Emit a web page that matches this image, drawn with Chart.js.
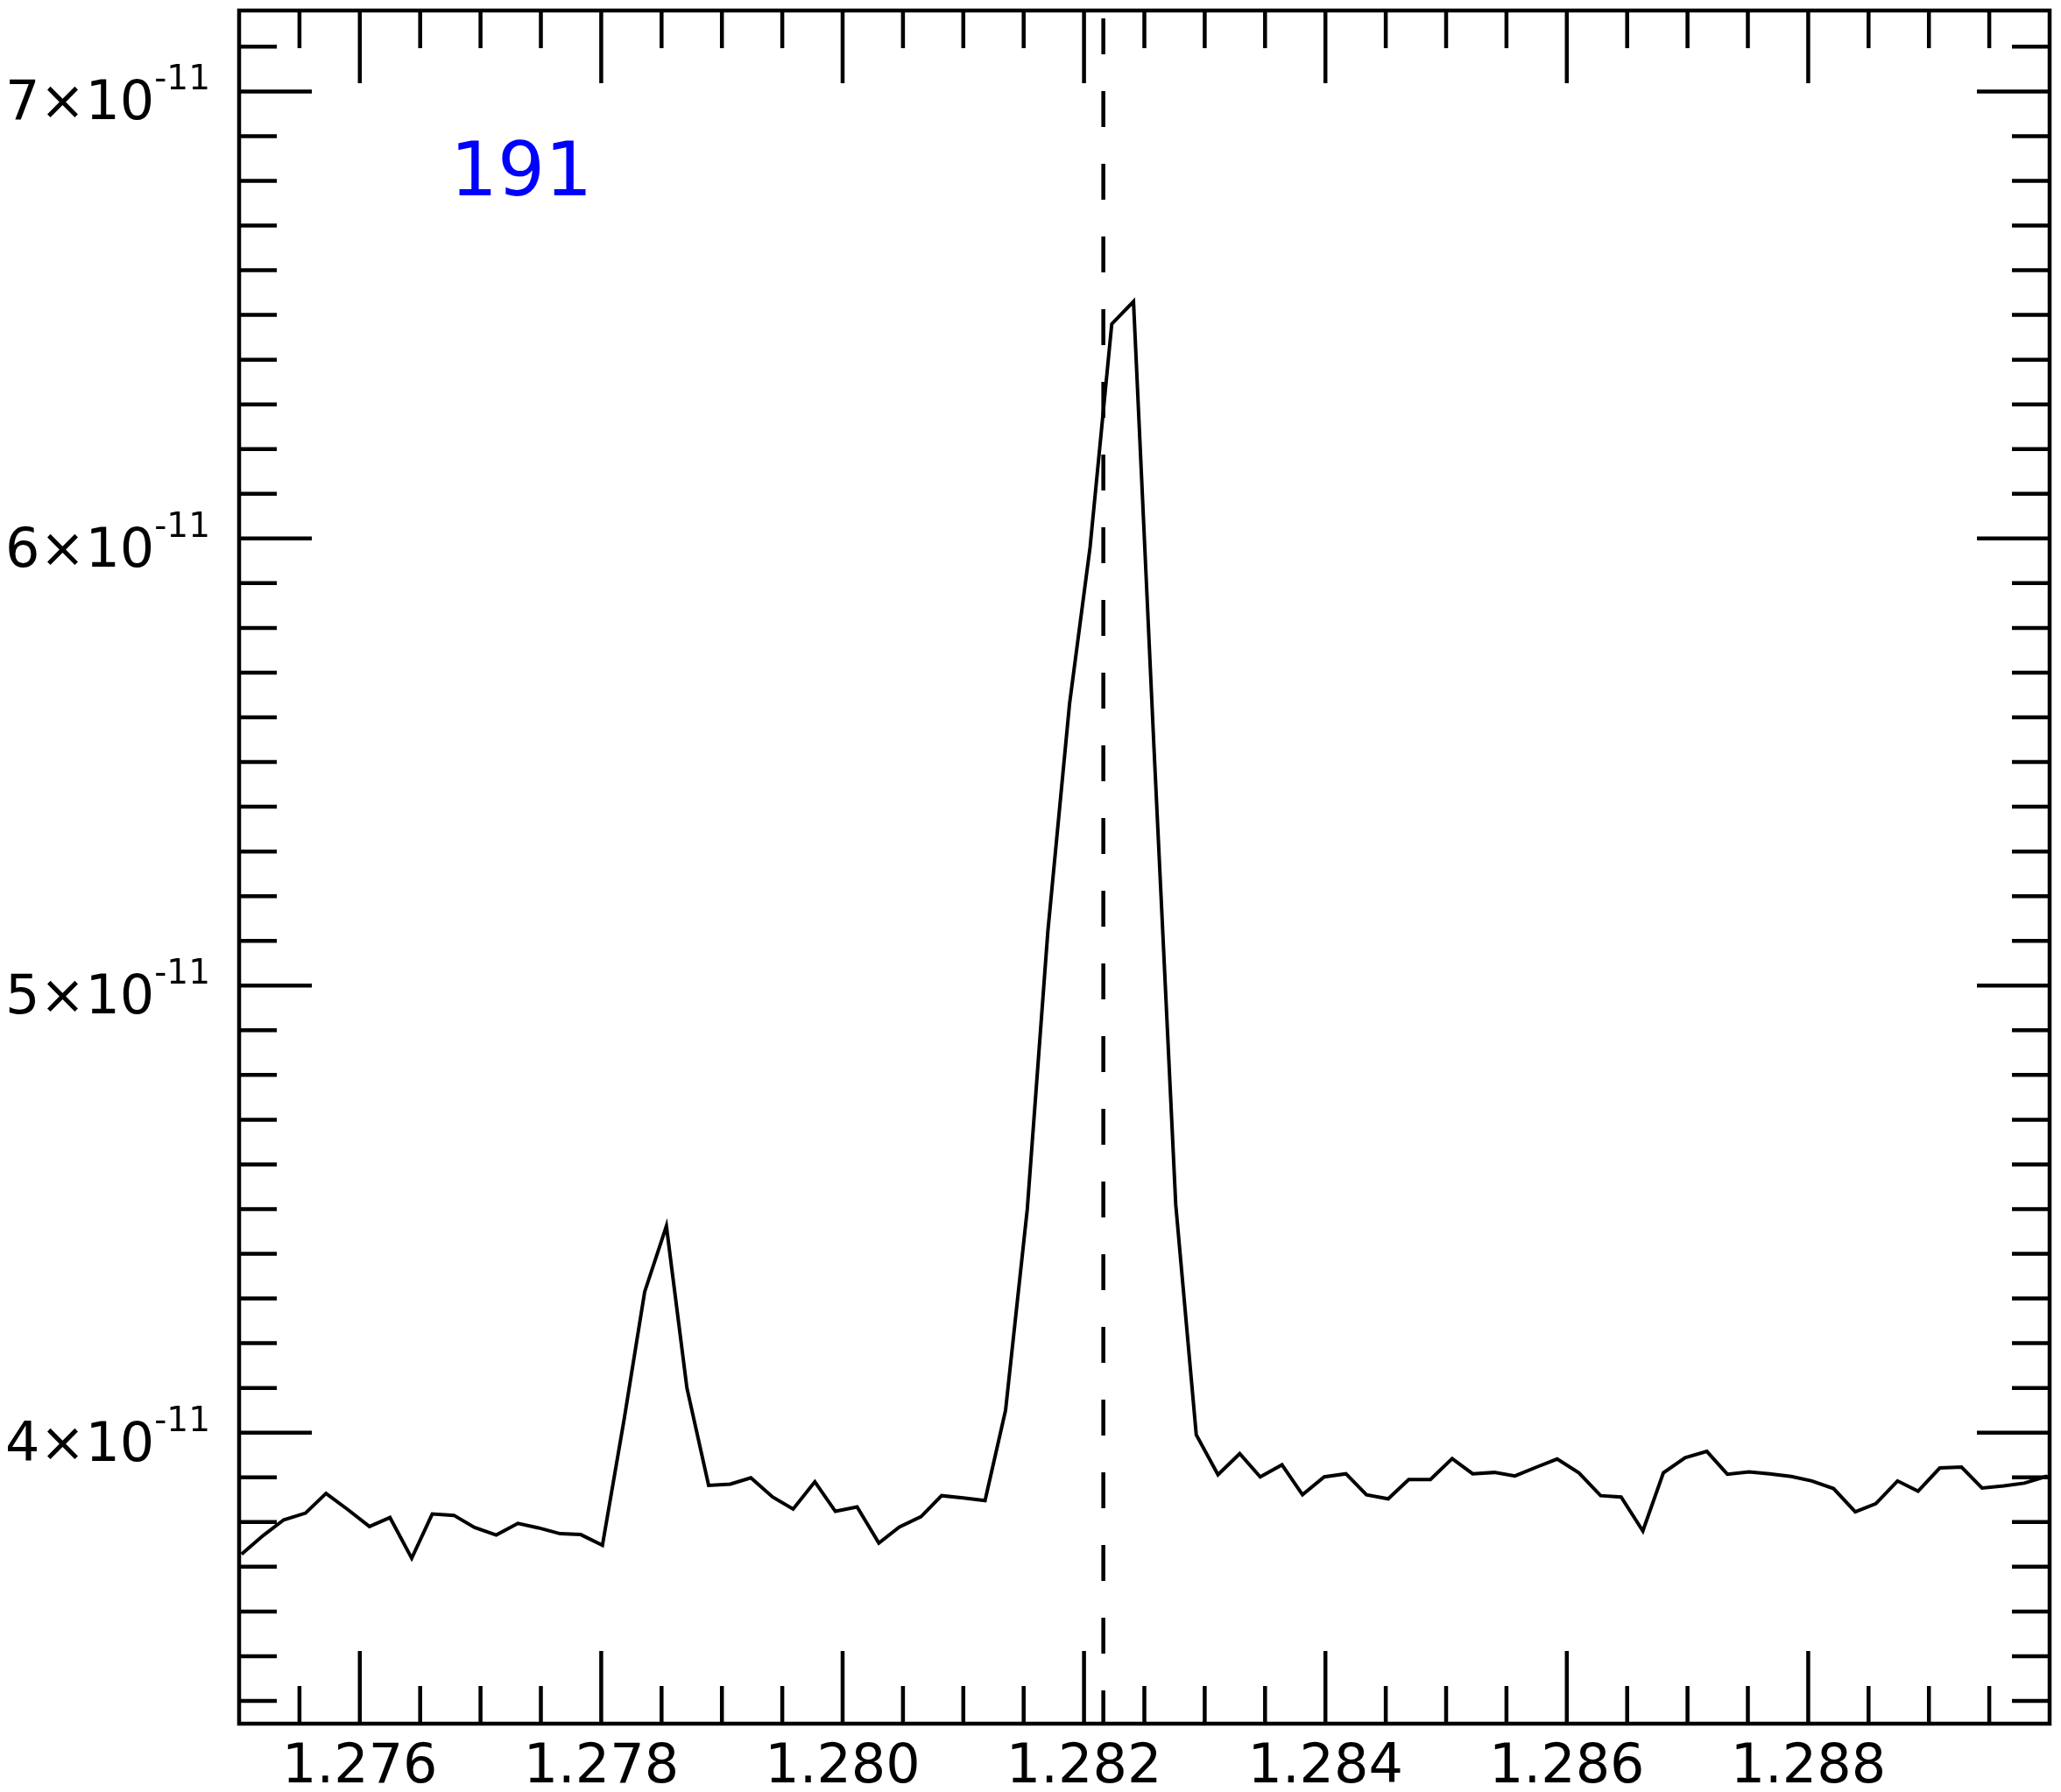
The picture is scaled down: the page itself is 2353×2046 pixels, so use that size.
<!DOCTYPE html>
<html>
<head>
<meta charset="utf-8">
<script src="https://cdn.jsdelivr.net/npm/chart.js@4/dist/chart.umd.min.js"></script>
<style>
  html, body { margin: 0; padding: 0; background: #fff; }
  #chart { display: block; }
</style>
</head>
<body>
<canvas id="chart" width="2353" height="2046"></canvas>
<script>
// Wavelength (micron) of each sample
const wavelengths = [
    1.27502, 1.27520, 1.27537, 1.27555, 1.27572, 1.27590, 1.27608, 1.27625, 1.27643, 1.27660,
    1.27678, 1.27695, 1.27713, 1.27731, 1.27748, 1.27766, 1.27783, 1.27801, 1.27819, 1.27836,
    1.27854, 1.27871, 1.27889, 1.27907, 1.27924, 1.27942, 1.27959, 1.27977, 1.27994, 1.28012,
    1.28030, 1.28047, 1.28065, 1.28082, 1.28100, 1.28118, 1.28135, 1.28153, 1.28170, 1.28188,
    1.28205, 1.28223, 1.28241, 1.28258, 1.28276, 1.28293, 1.28311, 1.28329, 1.28346, 1.28364,
    1.28381, 1.28399, 1.28417, 1.28434, 1.28452, 1.28469, 1.28487, 1.28505, 1.28522, 1.28540,
    1.28557, 1.28575, 1.28592, 1.28610, 1.28628, 1.28645, 1.28663, 1.28680, 1.28698, 1.28716,
    1.28733, 1.28751, 1.28768, 1.28786, 1.28803, 1.28821, 1.28839, 1.28856, 1.28874, 1.28891,
    1.28909, 1.28927, 1.28944, 1.28962, 1.28979, 1.28997, 1.29015
];

// Flux, in units of 1e-11
const flux = [
    3.728, 3.770, 3.805, 3.820, 3.864, 3.828, 3.790, 3.810, 3.719, 3.818,
    3.815, 3.788, 3.771, 3.797, 3.787, 3.774, 3.772, 3.748, 4.030, 4.315,
    4.462, 4.100, 3.882, 3.885, 3.899, 3.856, 3.829, 3.890, 3.824, 3.834,
    3.753, 3.789, 3.812, 3.859, 3.854, 3.848, 4.050, 4.500, 5.120, 5.630,
    5.980, 6.480, 6.530, 5.530, 4.510, 3.995, 3.906, 3.953, 3.901, 3.928,
    3.861, 3.901, 3.908, 3.861, 3.852, 3.895, 3.895, 3.942, 3.908, 3.911,
    3.903, 3.923, 3.941, 3.910, 3.859, 3.856, 3.780, 3.910, 3.944, 3.958,
    3.907, 3.912, 3.908, 3.902, 3.892, 3.875, 3.823, 3.841, 3.892, 3.869,
    3.921, 3.923, 3.876, 3.881, 3.887, 3.902, 3.875
];

const markerX = 1.28216;      // dashed reference line
const panelLabel = '191';

const xMajorTicks = [1.276, 1.278, 1.280, 1.282, 1.284, 1.286, 1.288];
const xTickLabels = ['1.276', '1.278', '1.280', '1.282', '1.284', '1.286', '1.288'];
const yMajorTicks = [4, 5, 6, 7];
const yTickLabels = ['4', '5', '6', '7'];
const yExponent = '-11';

const X_MIN = 1.275, X_MAX = 1.290;
const Y_MIN = 3.349, Y_MAX = 7.181;

const FONT = "'DejaVu Sans', sans-serif";

const points = wavelengths.map((w, i) => ({ x: w, y: flux[i] }));

// Frame, inward ticks on all four sides, labels
const framePlugin = {
    id: 'idlFrame',
    afterDraw(chart) {
        const ctx = chart.ctx;
        const area = chart.chartArea;
        const xs = chart.scales.x;
        const ys = chart.scales.y;
        const majorLen = 83, minorLen = 43;

        ctx.save();
        ctx.strokeStyle = '#000';
        ctx.lineCap = 'butt';
        ctx.lineWidth = 4.5;

        // x ticks (bottom + top)
        for (let k = 0; k <= 30; k++) {
            const v = +(X_MIN + k * 0.0005).toFixed(4);
            if (v <= X_MIN || v >= X_MAX) continue;
            const isMajor = xMajorTicks.some(t => Math.abs(t - v) < 1e-7);
            const len = isMajor ? majorLen : minorLen;
            const px = xs.getPixelForValue(v);
            ctx.beginPath();
            ctx.moveTo(px, area.bottom);
            ctx.lineTo(px, area.bottom - len);
            ctx.moveTo(px, area.top);
            ctx.lineTo(px, area.top + len);
            ctx.stroke();
        }

        // y ticks (left + right)
        for (let k = 0; k <= 40; k++) {
            const v = +(3.3 + k * 0.1).toFixed(2);
            if (v <= Y_MIN || v >= Y_MAX) continue;
            const isMajor = yMajorTicks.some(t => Math.abs(t - v) < 1e-7);
            const len = isMajor ? majorLen : minorLen;
            const py = ys.getPixelForValue(v);
            ctx.beginPath();
            ctx.moveTo(area.left, py);
            ctx.lineTo(area.left + len, py);
            ctx.moveTo(area.right, py);
            ctx.lineTo(area.right - len, py);
            ctx.stroke();
        }

        // box
        ctx.lineWidth = 4.5;
        ctx.strokeRect(area.left, area.top, area.right - area.left, area.bottom - area.top);

        // x tick labels
        ctx.fillStyle = '#000';
        ctx.font = `62px ${FONT}`;
        ctx.textAlign = 'center';
        ctx.textBaseline = 'alphabetic';
        xMajorTicks.forEach((t, i) => {
            ctx.fillText(xTickLabels[i], xs.getPixelForValue(t), 2035);
        });

        // y tick labels  N×10^-11
        const rightEdge = 240;
        yMajorTicks.forEach((t, i) => {
            const py = ys.getPixelForValue(t);
            const main = yTickLabels[i] + '\u00d710';
            ctx.font = `39px ${FONT}`;
            const sw = ctx.measureText(yExponent).width;
            ctx.font = `62px ${FONT}`;
            const mw = ctx.measureText(main).width;
            ctx.textAlign = 'left';
            ctx.fillText(main, rightEdge - sw - mw, py + 32);
            ctx.font = `39px ${FONT}`;
            ctx.fillText(yExponent, rightEdge - sw, py - 2);
        });

        // panel label
        ctx.fillStyle = '#0000ff';
        ctx.font = `85px ${FONT}`;
        ctx.textAlign = 'left';
        ctx.fillText(panelLabel, 514, 223);

        ctx.restore();
    }
};

new Chart(document.getElementById('chart'), {
    type: 'line',
    data: {
        datasets: [
            {
                data: points,
                borderColor: '#000',
                borderWidth: 4,
                pointRadius: 0,
                tension: 0,
                fill: false,
                clip: 0
            },
            {
                data: [{ x: markerX, y: Y_MAX }, { x: markerX, y: Y_MIN }],
                borderColor: '#000',
                borderWidth: 4.5,
                borderDash: [41, 42],
                borderDashOffset: -9,
                borderCapStyle: 'butt',
                pointRadius: 0,
                fill: false,
                clip: 0
            }
        ]
    },
    options: {
        responsive: false,
        animation: false,
        devicePixelRatio: 1,
        layout: { padding: { left: 273, top: 12, right: 13, bottom: 78 } },
        plugins: { legend: { display: false }, tooltip: { enabled: false } },
        scales: {
            x: { type: 'linear', min: X_MIN, max: X_MAX, display: false },
            y: { type: 'linear', min: Y_MIN, max: Y_MAX, display: false }
        }
    },
    plugins: [framePlugin]
});
</script>
</body>
</html>
